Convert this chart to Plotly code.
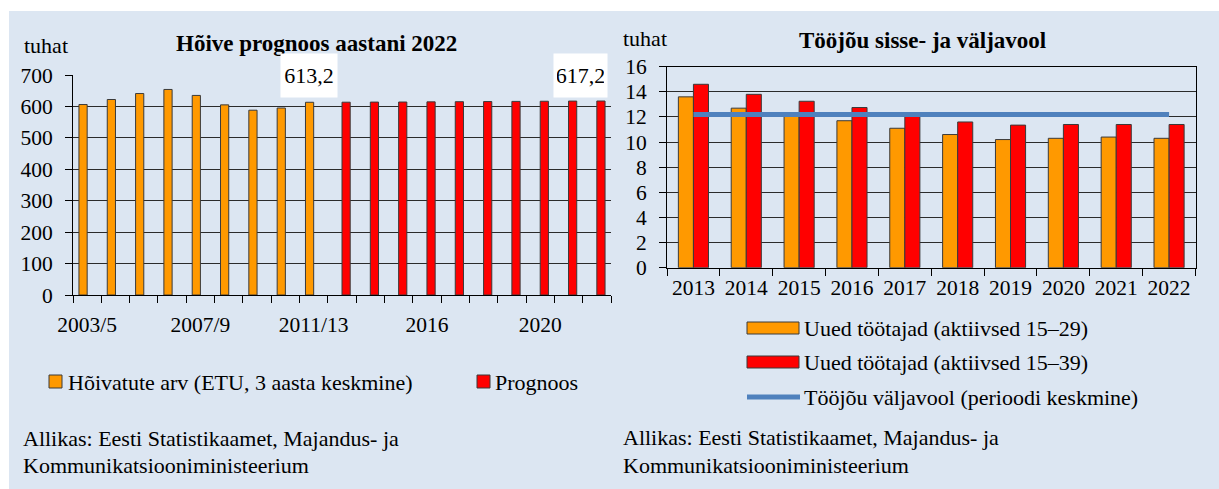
import plotly.graph_objects as go

# ---------------- data ----------------
left_categories = ["2003/5", "2004/6", "2005/7", "2006/8", "2007/9", "2008/10", "2009/11",
                   "2010/12", "2011/13", "2013", "2014", "2015", "2016", "2017", "2018",
                   "2019", "2020", "2021", "2022"]
left_tick_labels = ["2003/5", "", "", "", "2007/9", "", "", "", "2011/13", "", "", "",
                    "2016", "", "", "", "2020", "", ""]
employed_categories = ["2003/5", "2004/6", "2005/7", "2006/8", "2007/9", "2008/10",
                       "2009/11", "2010/12", "2011/13"]
employed_values = [606, 622, 641, 654, 635, 605, 588, 595, 613.2]
forecast_categories = ["2013", "2014", "2015", "2016", "2017", "2018", "2019", "2020",
                       "2021", "2022"]
forecast_values = [613.5, 613.8, 614.0, 614.5, 615.0, 615.5, 616.0, 616.5, 617.0, 617.2]

years = ["2013", "2014", "2015", "2016", "2017", "2018", "2019", "2020", "2021", "2022"]
new_workers_15_29 = [13.6, 12.7, 12.1, 11.7, 11.1, 10.6, 10.2, 10.3, 10.4, 10.3]
new_workers_15_39 = [14.6, 13.8, 13.25, 12.75, 12.1, 11.6, 11.35, 11.4, 11.4, 11.4]
outflow_avg = [12.2, 12.2, 12.2, 12.2, 12.2, 12.2, 12.2, 12.2, 12.2, 12.2]

left_title = "Hõive prognoos aastani 2022"
right_title = "Tööjõu sisse- ja väljavool"
unit_label = "tuhat"
left_legend = ["Hõivatute arv (ETU, 3 aasta keskmine)", "Prognoos"]
right_legend = ["Uued töötajad (aktiivsed 15–29)", "Uued töötajad (aktiivsed 15–39)",
                "Tööjõu väljavool (perioodi keskmine)"]
source_lines = ["Allikas: Eesti Statistikaamet, Majandus- ja", "Kommunikatsiooniministeerium"]

# ---------------- style ----------------
W, H = 1219, 489
FONT = "Liberation Serif, Times New Roman, Times, serif"
FS_TICK = 21.5
FS_TXT = 22
FS_TITLE = 23
ORANGE = "#FF9900"
RED = "#FF0000"
BLUE = "#4F81BD"
BG = "#DCE6F2"
EDGE = "#3a3a3a"


def px(x):
    return x / W


def py(y):
    return 1 - y / H


fig = go.Figure()

# left chart bars
fig.add_trace(go.Bar(x=employed_categories, y=employed_values, name=left_legend[0],
                     marker=dict(color=ORANGE, line=dict(color=EDGE, width=1)),
                     width=0.29, offset=-0.29, xaxis="x", yaxis="y", showlegend=False))
fig.add_trace(go.Bar(x=forecast_categories, y=forecast_values, name=left_legend[1],
                     marker=dict(color=RED, line=dict(color=EDGE, width=1)),
                     width=0.29, offset=0.0, xaxis="x", yaxis="y", showlegend=False))

# right chart bars + line
fig.add_trace(go.Bar(x=years, y=new_workers_15_29, name=right_legend[0],
                     marker=dict(color=ORANGE, line=dict(color=EDGE, width=1)),
                     width=0.285, offset=-0.285, xaxis="x2", yaxis="y2", showlegend=False))
fig.add_trace(go.Bar(x=years, y=new_workers_15_39, name=right_legend[1],
                     marker=dict(color=RED, line=dict(color=EDGE, width=1)),
                     width=0.285, offset=0.0, xaxis="x2", yaxis="y2", showlegend=False))
fig.add_trace(go.Scatter(x=years, y=outflow_avg, name=right_legend[2], mode="lines",
                         line=dict(color=BLUE, width=5), xaxis="x2", yaxis="y2",
                         showlegend=False))

tickfont = dict(family=FONT, size=FS_TICK, color="#000")

fig.update_layout(
    width=W, height=H,
    margin=dict(l=0, r=0, t=0, b=0, autoexpand=False),
    paper_bgcolor="white",
    plot_bgcolor="rgba(0,0,0,0)",
    barmode="overlay",
    showlegend=False,
    font=dict(family=FONT, size=FS_TXT, color="#000"),
    xaxis=dict(domain=[px(73), px(611)], type="category", categoryorder="array",
               categoryarray=left_categories, tickmode="array", tickvals=left_categories,
               ticktext=left_tick_labels, tickson="boundaries", ticks="outside", ticklen=7,
               tickcolor="#000", showline=True, linecolor="#000", linewidth=1,
               showgrid=False, tickfont=tickfont, ticklabelstandoff=10, tickangle=0,
               automargin=False, range=[-0.5, 18.5], anchor="y"),
    yaxis=dict(domain=[py(295), py(75)], range=[0, 700], dtick=100, tickmode="linear",
               ticks="outside", ticklen=7, tickcolor="#000", showline=True,
               linecolor="#000", showgrid=True, gridcolor="#2b2b2b", gridwidth=1,
               zeroline=False, tickfont=tickfont, ticklabelstandoff=8, automargin=False,
               anchor="x"),
    xaxis2=dict(domain=[px(667), px(1195.5)], type="category", categoryorder="array",
                categoryarray=years, tickson="boundaries", ticks="outside", ticklen=7,
                tickcolor="#000", showline=True, mirror=True, linecolor="#000",
                showgrid=False, tickfont=tickfont, tickangle=0, automargin=False,
                range=[-0.5, 9.5], anchor="y2"),
    yaxis2=dict(domain=[py(267.7), py(66.7)], range=[0, 16], dtick=2, tickmode="linear",
                ticks="outside", ticklen=7, tickcolor="#000", showline=True, mirror=True,
                linecolor="#000", showgrid=True, gridcolor="#2b2b2b", gridwidth=1,
                zeroline=False, tickfont=tickfont, ticklabelstandoff=8, automargin=False,
                anchor="x2"),
)

shapes = [
    dict(type="rect", xref="paper", yref="paper", x0=px(9), x1=1, y0=0, y1=py(11),
         fillcolor=BG, line=dict(width=0), layer="below"),
    # left legend swatches
    dict(type="rect", xref="paper", yref="paper", x0=px(49), x1=px(62), y0=py(388),
         y1=py(375), fillcolor=ORANGE, line=dict(color=EDGE, width=1)),
    dict(type="rect", xref="paper", yref="paper", x0=px(477), x1=px(490), y0=py(388),
         y1=py(375), fillcolor=RED, line=dict(color=EDGE, width=1)),
    # right legend swatches
    dict(type="rect", xref="paper", yref="paper", x0=px(747), x1=px(799), y0=py(334),
         y1=py(322), fillcolor=ORANGE, line=dict(color=EDGE, width=1)),
    dict(type="rect", xref="paper", yref="paper", x0=px(747), x1=px(799), y0=py(368),
         y1=py(356), fillcolor=RED, line=dict(color=EDGE, width=1)),
    dict(type="line", xref="paper", yref="paper", x0=px(747), x1=px(800), y0=py(397),
         y1=py(397), line=dict(color=BLUE, width=5)),
]
fig.update_layout(shapes=shapes)


def txt(x, y, s, size=FS_TXT, bold=False, xanchor="left"):
    fig.add_annotation(xref="paper", yref="paper", x=px(x), y=py(y),
                       text=f"<b>{s}</b>" if bold else s,
                       showarrow=False, xanchor=xanchor, yanchor="middle",
                       font=dict(family=FONT, size=size, color="#000"))


txt(316, 44, left_title, size=FS_TITLE, bold=True, xanchor="center")
txt(922, 40, right_title, size=FS_TITLE, bold=True, xanchor="center")
txt(22, 46, unit_label)
txt(621, 39, unit_label)

txt(66, 382, left_legend[0])
txt(493, 382, left_legend[1])
for i, yy in enumerate([328, 362, 397]):
    txt(802, yy, right_legend[i])

txt(21, 438, source_lines[0])
txt(21, 465, source_lines[1])
txt(621, 437, source_lines[0])
txt(621, 465, source_lines[1])


def fmt(v):
    return f"{v:.1f}".replace(".", ",")


fig.add_annotation(x=left_categories.index(employed_categories[-1]), y=700, xref="x", yref="y",
                   text=fmt(employed_values[-1]), width=50, height=37,
                   showarrow=False, bgcolor="white", borderpad=3, xshift=-5,
                   font=dict(family=FONT, size=FS_TXT, color="#000"))
fig.add_annotation(x=left_categories.index(forecast_categories[-1]), y=700, xref="x", yref="y",
                   text=fmt(forecast_values[-1]), width=47, height=37,
                   showarrow=False, bgcolor="white", borderpad=3, xanchor="right", xshift=11,
                   font=dict(family=FONT, size=FS_TXT, color="#000"))

fig.write_html("out.html", config={"displayModeBar": False},
               post_script="document.body.style.margin='0';")
